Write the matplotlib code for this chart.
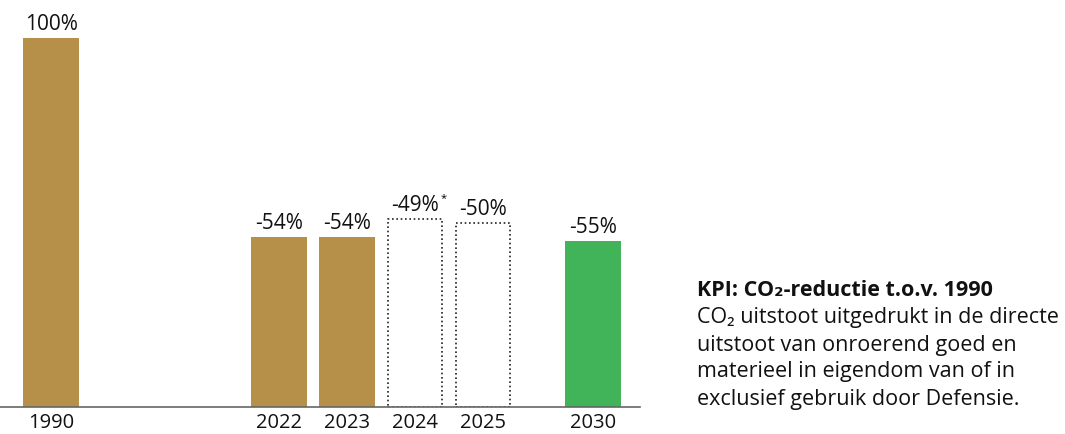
import matplotlib.pyplot as plt

plt.rcParams['font.family'] = ['Open Sans', 'DejaVu Sans']

# data
years = ['1990', '2022', '2023', '2024', '2025', '2030']
remaining = [100, 46, 46, 51, 50, 45]   # % of 1990 emissions
labels = ['100%', '-54%', '-54%', '-49%', '-50%', '-55%']
kind = ['real', 'real', 'real', 'estimate', 'estimate', 'target']

# layout
xpos = [0, 3.353, 4.353, 5.35, 6.35, 7.97]
gold = '#b69048'
green = '#41b45a'
fs = 15

fig = plt.figure(figsize=(10.65, 4.34), dpi=100)
ax = fig.add_axes([0, 1 - 407 / 434, 640 / 1065, 407 / 434])

for x, h, lab, k in zip(xpos, remaining, labels, kind):
    if k == 'estimate':
        ax.bar(x, h, width=0.8, facecolor='white', edgecolor='#222222',
               linestyle=(0, (1, 1.6)), linewidth=1.2)
    else:
        ax.bar(x, h, width=0.82, color=gold if k == 'real' else green)
    t = ax.text(x, h + 0.8, lab, ha='center', va='bottom', fontsize=fs, color='#111111')
    if lab == '-49%':
        # small raised asterisk after the estimate label
        ax.annotate('*', xy=(1, 1), xycoords=t, xytext=(1, 1),
                    textcoords='offset points', ha='left', va='top', fontsize=8)

ax.set_xlim(-0.75, 8.66)
ax.set_ylim(0, 110.3)
ax.set_xticks(xpos)
ax.set_xticklabels(years, fontsize=14.5, color='#111111')
ax.tick_params(axis='x', length=0, pad=4)
ax.set_yticks([])
for s in ['top', 'right', 'left']:
    ax.spines[s].set_visible(False)
ax.spines['bottom'].set_color('#666666')
ax.spines['bottom'].set_linewidth(1.2)

# side text
tx = 697 / 1065
fs2 = 15.5
fig.text(tx, 1 - 291 / 434, 'KPI: CO\u2082-reductie t.o.v. 1990', fontsize=fs2,
         fontweight='bold', va='center', ha='left', color='#111111')
body = ['CO\u2082 uitstoot uitgedrukt in de directe',
        'uitstoot van onroerend goed en',
        'materieel in eigendom van of in',
        'exclusief gebruik door Defensie.']
for i, line in enumerate(body):
    fig.text(tx, 1 - (318 + 27 * i) / 434, line, fontsize=fs2, va='center',
             ha='left', color='#111111')

fig.savefig('out.png', dpi=100)
